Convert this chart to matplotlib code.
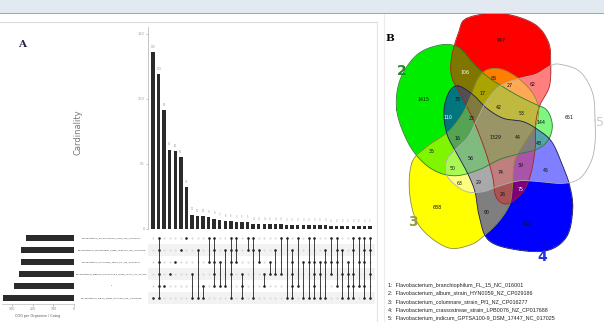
import numpy as np
import matplotlib
matplotlib.use("Agg")
import matplotlib.pyplot as plt
from matplotlib.path import Path
from matplotlib.transforms import blended_transform_factory

# ---------------- data ----------------
set_names = [
    "Flavobacterium_psychrophilum_FPRU_NC_CP010277",
    "Flavobacterium_crassostreae_strain_LPB0076_NZ_CP017688",
    "Flavobacterium_columnare_strain_Pf1_NZ_CP016277",
    "Flavobacterium_indicum_GPTSA100-9_DSM_17447_NC_017025",
    "1",
    "Flavobacterium_album_strain_HYN0059_NZ_CP029186",
]
set_sizes = [231, 255, 256, 264, 292, 343]

inter_counts = [136, 119, 91, 61, 60, 55, 32, 11, 10, 10, 9, 8, 7, 6, 6, 5, 5, 5,
                4, 4, 4, 4, 4, 4, 3, 3, 3, 3, 3, 3, 3, 3, 2, 2, 2, 2, 2, 2, 2, 2]
inter_sets = [
    [5], [0, 1, 2, 3, 4, 5], [4], [3], [2], [1], [0], [3, 5], [1, 5], [4, 5],
    [0, 2], [0, 1, 2, 3, 4], [2, 4], [1, 4], [0, 1, 2, 3, 5], [0, 1, 2], [3, 4, 5],
    [0, 1], [0, 1, 5], [1, 2], [3, 4], [2, 3], [1, 3], [0, 3], [0, 5],
    [1, 2, 3, 4, 5], [0, 4], [2, 5], [0, 2, 5], [0, 2, 3, 4, 5], [2, 3, 5],
    [1, 2, 5], [0, 2, 3], [0, 1, 2, 4], [1, 3, 5], [2, 3, 4, 5], [0, 1, 3, 4, 5],
    [0, 2, 4], [0, 1, 2, 4, 5], [0, 1, 3, 5],
]

venn_counts = [947, 106, 86, 27, 62, 1415, 17, 33, 42, 53, 144, 651, 110, 23, 1329,
               44, 48, 16, 35, 56, 50, 63, 29, 74, 39, 45, 26, 75, 688, 90, 612]
venn_legend = [
    "1:  Flavobacterium_branchiophilum_FL_15_NC_016001",
    "2:  Flavobacterium_album_strain_HYN0059_NZ_CP029186",
    "3:  Flavobacterium_columnare_strain_Pf1_NZ_CP016277",
    "4:  Flavobacterium_crassostreae_strain_LPB0076_NZ_CP017688",
    "5:  Flavobacterium_indicum_GPTSA100-9_DSM_17447_NC_017025",
]

# ---------------- layout (pixel coords of the figure) ----------------
venn_pos = [(501, 40), (465, 72), (494, 78), (510, 85), (533, 84), (423, 99),
            (482, 93), (458, 99), (499, 107), (522, 113), (541, 122), (569, 117),
            (448, 117), (472, 118), (495, 137), (518, 137), (539, 143), (457, 138),
            (432, 151), (471, 158), (453, 168), (460, 183), (479, 182), (501, 172),
            (521, 165), (546, 170), (503, 194), (521, 189), (437, 207), (487, 212),
            (527, 223)]

shape_pts = {
    "red": [(466.7, 18.3), (500, 13.3), (533.3, 23.3), (548.3, 41.7), (550.7, 63.3),
            (549.3, 86.7), (540, 105), (535.7, 123.3), (535, 150), (530, 176.7),
            (521.7, 193.3), (506.7, 204), (496, 196.7), (492.7, 176.7), (485, 150),
            (473.3, 120), (461.7, 96.7), (451.7, 76.7), (451.7, 56.7), (458.3, 33.3)],
    "green": [(396.7, 110), (400, 80), (416.7, 55), (440, 45), (458.3, 47.3),
              (473.3, 63.3), (486.7, 76), (500, 85), (516.7, 95), (533.3, 103.3),
              (546.7, 110), (552.3, 125), (548.3, 140), (536.7, 149.3), (518.3, 154),
              (500, 159.3), (480, 169.3), (456.7, 175.7), (436.7, 171.7), (420, 159.3),
              (406.7, 140)],
    "yellow": [(411.7, 163.3), (410, 196.7), (420, 226.7), (446.7, 247.3), (470, 245),
               (485, 235), (500, 220), (510, 203.3), (512.7, 183.3), (515, 160),
               (526.7, 140), (536.7, 123.3), (538.3, 106.7), (531.7, 91.7), (518.3, 78.3),
               (501.7, 69.3), (486.7, 70), (477.3, 80), (470, 98.3), (461.7, 115),
               (448.3, 131.7), (426.7, 146.7)],
    "blue": [(458.3, 86), (473.3, 95), (486.7, 108.3), (503.3, 118.3), (523.3, 121.7),
             (538.3, 130), (551.7, 141.7), (561.7, 163.3), (570, 186.7), (572.7, 210),
             (566.7, 236.7), (546.7, 250.7), (513.3, 249.3), (488.3, 240), (479.3, 216.7),
             (475, 191.7), (467.3, 172.7), (456.7, 153.3), (446.7, 133.3), (444, 110),
             (449.3, 91.7)],
    "white": [(595, 120), (592.7, 93.3), (580, 71.7), (560, 64.3), (550, 66),
              (536.7, 74), (520, 78.3), (501.7, 85), (488.3, 98.3), (478.3, 116.7),
              (468.3, 136.7), (455, 150), (446.7, 160), (446, 173.3), (453.3, 183.3),
              (466.7, 191.7), (483.3, 191.7), (500, 185.7), (520, 180.7), (540, 181.7),
              (563.3, 183.3), (580, 178.3), (591, 161.7), (595, 143.3)],
}
fill_rgb = {"red": (1, 0, 0), "green": (0, 0.93, 0), "yellow": (1, 1, 0),
            "blue": (0, 0, 1), "white": (1, 1, 1)}
edge_col = {"red": "#a82020", "green": "#2d7d2d", "yellow": "#8c8c2a",
            "blue": "#1a1a50", "white": "#b0b0b0"}


def smooth(pts, n=16):
    p = np.asarray(pts, float)
    m = len(p)
    t = np.linspace(0, 1, n, endpoint=False)[:, None]
    out = []
    for i in range(m):
        p0, p1, p2, p3 = p[i - 1], p[i], p[(i + 1) % m], p[(i + 2) % m]
        out.append(0.5 * (2 * p1 + (-p0 + p2) * t + (2 * p0 - 5 * p1 + 4 * p2 - p3) * t ** 2
                          + (-p0 + 3 * p1 - 3 * p2 + p3) * t ** 3))
    s = np.vstack(out)
    return np.vstack([s, s[:1]])


fig = plt.figure(figsize=(6.04, 3.22), dpi=100)
bg = fig.add_axes([0, 0, 1, 1])
bg.set_xlim(0, 604)
bg.set_ylim(322, 0)
bg.axis("off")

# window chrome / panel frames
bg.add_patch(plt.Rectangle((0, 0), 604, 12.5, color="#e3e9f0", zorder=10, lw=0))
bg.add_patch(plt.Rectangle((0, 12.5), 604, 1.6, color="#a2a6aa", zorder=10, lw=0))
bg.plot([0, 377], [22, 22], color="#dcdcdc", lw=0.8)
bg.plot([377, 377], [22, 322], color="#e2e2e2", lw=0.8)
bg.plot([383.5, 383.5], [14, 322], color="#ececec", lw=0.8)

# ---------------- Venn (raster of region colours) ----------------
x0, x1, y0, y1 = 385, 604, 14, 322
gx, gy = np.meshgrid(np.arange(x0, x1, 0.5) + 0.25, np.arange(y0, y1, 0.5) + 0.25)
flat = np.column_stack([gx.ravel(), gy.ravel()])
acc = np.zeros((flat.shape[0], 3))
cnt = np.zeros(flat.shape[0])
curves = {}
for name, pts in shape_pts.items():
    c = smooth(pts)
    curves[name] = c
    inside = Path(c).contains_points(flat)
    acc[inside] += fill_rgb[name]
    cnt[inside] += 1
img = np.ones((flat.shape[0], 4))
img[:, 3] = 0
has = cnt > 0
img[has, :3] = acc[has] / cnt[has, None]
img[has, 3] = 1
img = img.reshape(gx.shape[0], gx.shape[1], 4)
bg.imshow(img, extent=(x0, x1, y1, y0), origin="upper", interpolation="bilinear",
          zorder=1, aspect="auto")
for name, c in curves.items():
    bg.plot(c[:, 0], c[:, 1], color=edge_col[name], lw=0.6, zorder=2)

white_txt = {106, 110, 75}
for v, (px, py) in zip(venn_counts, venn_pos):
    bg.text(px, py, str(v), fontsize=3.4, ha="center", va="center", zorder=3,
            color="white" if v in white_txt else "#111111")

bg.text(528, 6, "1", color="#ee1111", fontsize=10, ha="center", va="center", zorder=5)
bg.text(402, 71, "2", color="#1f8a1f", fontsize=10, fontweight="bold", ha="center", va="center")
bg.text(413, 222, "3", color="#9a9a40", fontsize=10, fontweight="bold", ha="center", va="center")
bg.text(542, 257, "4", color="#2233dd", fontsize=10, fontweight="bold", ha="center", va="center")
bg.text(596, 122, "5", color="#cccccc", fontsize=9, ha="left", va="center")
bg.text(385, 38, "B", family="DejaVu Serif", fontweight="bold", fontsize=7.5,
        ha="left", va="center")
bg.text(22, 44, "A", family="DejaVu Serif", fontweight="bold", fontsize=7.5,
        ha="center", va="center", color="#222244")
for i, line in enumerate(venn_legend):
    bg.text(388, 285 + i * 8.3, line, family="Liberation Sans", fontsize=3.9,
            ha="left", va="center", color="#222222")

# ---------------- UpSet: intersection bars ----------------
W, H = 604.0, 322.0
n = len(inter_counts)
xs = np.arange(n)
ax_b = fig.add_axes([148 / W, (H - 229) / H, 227 / W, 202 / H])
ax_b.bar(xs, inter_counts, width=0.62, color="#2b2b2b")
for x, v in zip(xs, inter_counts):
    ax_b.text(x, v + 2.5, str(v), fontsize=1.8, ha="center", va="bottom", color="#999999")
ax_b.set_xlim(-0.9, n - 0.1)
ax_b.set_ylim(0, 155)
ax_b.set_yticks([0, 50, 100, 150])
ax_b.set_xticks([])
ax_b.tick_params(axis="y", labelsize=2.5, colors="#999999", length=1.5, width=0.4, pad=1)
for s in ["top", "right", "bottom"]:
    ax_b.spines[s].set_visible(False)
ax_b.spines["left"].set_color("#bbbbbb")
ax_b.spines["left"].set_linewidth(0.6)
ax_b.patch.set_alpha(0)
fig.text(78 / W, (H - 132) / H, "Cardinality", rotation=90, fontsize=6,
         color="#777777", ha="center", va="center")

# ---------------- UpSet: matrix ----------------
ax_m = fig.add_axes([148 / W, (H - 304) / H, 227 / W, 72 / H])
nsets = len(set_names)
for r in range(nsets):
    if r % 2 == 1:
        ax_m.axhspan(r - 0.5, r + 0.5, color="#f2f2f2", lw=0, zorder=0)
for x, combo in zip(xs, inter_sets):
    ax_m.scatter([x] * nsets, range(nsets), s=2.4, color="#dadada", lw=0, zorder=1)
    ax_m.scatter([x] * len(combo), combo, s=3.4, color="#222222", lw=0, zorder=3)
    if len(combo) > 1:
        ax_m.plot([x, x], [min(combo), max(combo)], color="#222222", lw=0.6, zorder=2)
ax_m.set_xlim(-0.9, n - 0.1)
ax_m.set_ylim(nsets - 0.5, -0.5)
ax_m.axis("off")
tr = blended_transform_factory(ax_m.transAxes, ax_m.transData)
for r, name in enumerate(set_names):
    ax_m.text(-0.16, r, name, transform=tr, fontsize=1.7, family="Liberation Sans",
              ha="center", va="center", color="#333333")

# ---------------- UpSet: set sizes ----------------
ax_s = fig.add_axes([1.6 / W, (H - 304) / H, 72.4 / W, 72 / H])
ax_s.barh(range(nsets), set_sizes, height=0.56, color="#2b2b2b")
ax_s.set_xlim(350, 0)
ax_s.set_ylim(nsets - 0.5, -0.5)
ax_s.set_yticks([])
ax_s.set_xticks([300, 200, 100, 0])
ax_s.tick_params(axis="x", labelsize=2.3, colors="#888888", length=1.5, width=0.4, pad=1)
for s in ["top", "right", "left"]:
    ax_s.spines[s].set_visible(False)
ax_s.spines["bottom"].set_color("#bbbbbb")
ax_s.spines["bottom"].set_linewidth(0.5)
ax_s.set_xlabel("COG per Organism / Categ", fontsize=2.4, color="#555555", labelpad=2)
ax_s.patch.set_alpha(0)

fig.savefig("out.png", dpi=100)
